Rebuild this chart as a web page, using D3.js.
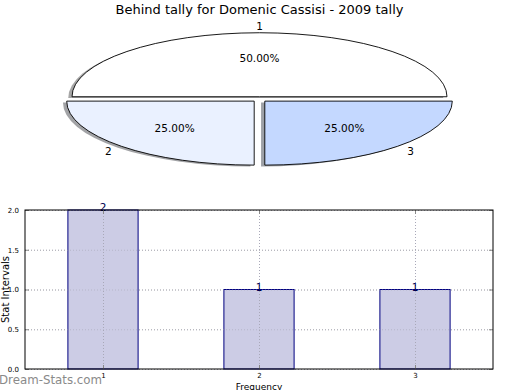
<!DOCTYPE html>
<html><head><meta charset="utf-8">
<script src="https://cdn.jsdelivr.net/npm/d3@7/dist/d3.min.js"></script>
<style>body{margin:0;background:#fff}svg{display:block;font-family:"DejaVu Sans",sans-serif}</style>
</head><body><svg id="c" width="520" height="390"></svg>
<script>
const title = "Behind tally for Domenic Cassisi - 2009 tally";
const pieLabels = ["1","2","3"];
const pieValues = [2,1,1];
const pieColors = ["#ffffff","#eaf1ff","#c4d8ff"];
const barCats = [1,2,3];
const barValues = [2,1,1];
const yTicks = [0,0.5,1.0,1.5,2.0];
const xLabel = "Frequency";
const yLabel = "Stat Intervals";
const watermark = "Dream-Stats.com";

const svg = d3.select("#c");
svg.append("text").attr("x",259.5).attr("y",14).attr("text-anchor","middle")
  .attr("font-size",13).attr("fill","#000").text(title);

// ---- Pie (elliptical) ----
const cx=259.5, cy=99.3, rx=187.5, ry=64, R=100, expl=0.04, sh=0.02;
const pie = d3.pie().sort(null).startAngle(Math.PI/2).endAngle(Math.PI/2-2*Math.PI);
const arcs = pie(pieValues);
const arc = d3.arc().innerRadius(0).outerRadius(R);
const total = d3.sum(pieValues);
const pg = svg.append("g");
arcs.forEach((a,i)=>{
  const mid=(a.startAngle+a.endAngle)/2;
  const ux=Math.sin(mid), uy=-Math.cos(mid);
  const ox=cx+expl*ux*rx, oy=cy+expl*uy*ry;
  const c=d3.rgb(pieColors[i]);
  const shc=d3.rgb(c.r*0.3,c.g*0.3,c.b*0.3);
  pg.append("path").attr("d",arc(a))
    .attr("transform",`translate(${ox-sh*rx},${oy+sh*ry}) scale(${rx/R},${ry/R})`)
    .attr("fill",shc).attr("fill-opacity",0.5).attr("stroke","none");
});
arcs.forEach((a,i)=>{
  const mid=(a.startAngle+a.endAngle)/2;
  const ux=Math.sin(mid), uy=-Math.cos(mid);
  const ox=cx+expl*ux*rx, oy=cy+expl*uy*ry;
  pg.append("path").attr("d",arc(a))
    .attr("transform",`translate(${ox},${oy}) scale(${rx/R},${ry/R})`)
    .attr("fill",pieColors[i]).attr("stroke","#000").attr("stroke-width",0.9)
    .attr("vector-effect","non-scaling-stroke");
  pg.append("text").attr("x",ox+1.1*ux*rx).attr("y",oy+1.1*uy*ry).attr("dy","0.35em")
    .attr("text-anchor","middle").attr("font-size",10.5).text(pieLabels[i]);
  pg.append("text").attr("x",ox+0.6*ux*rx).attr("y",oy+0.6*uy*ry).attr("dy","0.35em")
    .attr("text-anchor","middle").attr("font-size",10.5)
    .text((pieValues[i]/total*100).toFixed(2)+"%");
});

// ---- Bar chart ----
const L=25, Rr=493, T=210, B=369;
const x=d3.scaleLinear().domain([0.5,3.5]).range([L,Rr]);
const y=d3.scaleLinear().domain([0,2]).range([B,T]);
const bw=0.45;
const bg=svg.append("g");
bg.selectAll(".gy").data(yTicks).join("line").attr("x1",L).attr("x2",Rr)
  .attr("y1",d=>y(d)+0.5).attr("y2",d=>y(d)+0.5).attr("stroke","#b4b4b4").attr("stroke-dasharray","1,2");
bg.selectAll(".gx").data(barCats).join("line").attr("y1",T).attr("y2",B)
  .attr("x1",d=>Math.round(x(d))+0.5).attr("x2",d=>Math.round(x(d))+0.5).attr("stroke","#b4b4b4").attr("stroke-dasharray","1,2");
bg.selectAll(".bar").data(barValues).join("rect")
  .attr("x",(d,i)=>x(barCats[i]-bw/2)).attr("width",x(bw)-x(0))
  .attr("y",d=>y(d)).attr("height",d=>y(0)-y(d))
  .attr("fill","#ccccE5").attr("stroke","#000080").attr("stroke-width",1);
bg.selectAll(".gx2").data(barCats).join("line").attr("y1",T).attr("y2",B)
  .attr("x1",d=>Math.round(x(d))+0.5).attr("x2",d=>Math.round(x(d))+0.5).attr("stroke","#a8a8b8").attr("stroke-dasharray","1,2");
bg.selectAll(".gy2").data(yTicks).join("line")
  .attr("y1",d=>y(d)+0.5).attr("y2",d=>y(d)+0.5)
  .attr("x1",L).attr("x2",Rr).attr("stroke","#a8a8b8").attr("stroke-dasharray","1,2").attr("opacity",0.6);
bg.selectAll(".vl").data(barValues).join("text")
  .attr("x",(d,i)=>x(barCats[i])).attr("y",d=>y(d)+1).attr("text-anchor","middle")
  .attr("font-size",10.5).attr("fill","#000050").text(d=>d);
const yAxis=d3.axisLeft(y).tickValues(yTicks).tickFormat(d3.format(".1f")).tickSize(-4).tickPadding(6);
const yg=bg.append("g").attr("transform",`translate(${L},0)`).call(yAxis);
const yAxisR=d3.axisRight(y).tickValues(yTicks).tickFormat("").tickSize(-4);
const yg2=bg.append("g").attr("transform",`translate(${Rr},0)`).call(yAxisR);
const xAxis=d3.axisBottom(x).tickValues(barCats).tickFormat(d3.format("d")).tickSize(-4).tickPadding(4);
const xg=bg.append("g").attr("transform",`translate(0,${B})`).call(xAxis);
const xAxisT=d3.axisTop(x).tickValues(barCats).tickFormat("").tickSize(-4);
const xg2=bg.append("g").attr("transform",`translate(0,${T})`).call(xAxisT);
[yg,yg2,xg,xg2].forEach(g=>{g.select(".domain").remove();
  g.selectAll("text").attr("font-size",7).attr("fill","#000").attr("font-family","DejaVu Sans");
  g.selectAll("line").attr("stroke","#888");});
bg.append("rect").attr("x",L).attr("y",T).attr("width",Rr-L).attr("height",B-T)
  .attr("fill","none").attr("stroke","#000").attr("stroke-width",1);
svg.append("text").attr("transform",`translate(8.5,289.5) rotate(-90)`).attr("text-anchor","middle")
  .attr("font-size",10).attr("fill","#000").text(yLabel);
svg.append("text").attr("x",259).attr("y",389.5).attr("text-anchor","middle")
  .attr("font-size",9).attr("fill","#000").text(xLabel);
svg.append("text").attr("x",-1).attr("y",384).attr("font-size",11.8)
  .attr("fill","#8a8a8a").text(watermark);
</script></body></html>
